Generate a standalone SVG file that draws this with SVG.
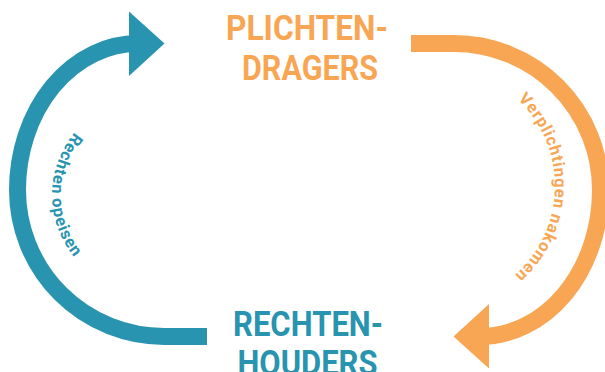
<svg xmlns="http://www.w3.org/2000/svg" xmlns:xlink="http://www.w3.org/1999/xlink" width="605" height="372" viewBox="0 0 605 372">
<defs>
<style>
.title{font-family:"Roboto","Liberation Sans",sans-serif;font-weight:700;font-size:35px}
.lbl{font-family:"Roboto","Liberation Sans",sans-serif;font-weight:700;font-size:16.5px;letter-spacing:0.8px}
.blue{fill:#2894AF;color:#2894AF}
.orange{fill:#F8A654;color:#F8A654}
.shaft{fill:none;stroke:currentColor;stroke-width:17;stroke-linecap:butt}
.head{fill:currentColor;stroke:none}
</style>
<g id="arrowShape">
<path class="shaft" d="M207,336.5 H164 A146.5,146.5 0 0 1 17.5,190 A120.5,146.5 0 0 1 138,43.5"/>
<polygon class="head" points="129,11.5 164.5,43.5 129,76"/>
</g>
<path id="bluePath" d="M150,97 A98,98 0 0 0 150,293"/>
<path id="orangePath" d="M436,67 A119,119 0 0 1 436,305"/>
</defs>
<rect width="605" height="372" fill="#ffffff"/>
<g id="connectors">
<g id="arrow-rechten-opeisen" class="blue">
<use href="#arrowShape" xlink:href="#arrowShape"/>
<text class="lbl"><textPath href="#bluePath" xlink:href="#bluePath" startOffset="50%" text-anchor="middle">Rechten opeisen</textPath></text>
</g>
<g id="arrow-verplichtingen-nakomen" class="orange">
<use href="#arrowShape" xlink:href="#arrowShape" transform="rotate(180 309 190)"/>
<text class="lbl"><textPath href="#orangePath" xlink:href="#orangePath" startOffset="50.6%" text-anchor="middle">Verplichtingen nakomen</textPath></text>
</g>
</g>
<g id="plichtendragers" class="orange">
<text class="title" x="226" y="40" textLength="162" lengthAdjust="spacingAndGlyphs">PLICHTEN-</text>
<text class="title" x="242" y="80" textLength="136" lengthAdjust="spacingAndGlyphs">DRAGERS</text>
</g>
<g id="rechtenhouders" class="blue">
<text class="title" x="233" y="336" textLength="150" lengthAdjust="spacingAndGlyphs">RECHTEN-</text>
<text class="title" x="237.5" y="375" textLength="140" lengthAdjust="spacingAndGlyphs">HOUDERS</text>
</g>
</svg>
